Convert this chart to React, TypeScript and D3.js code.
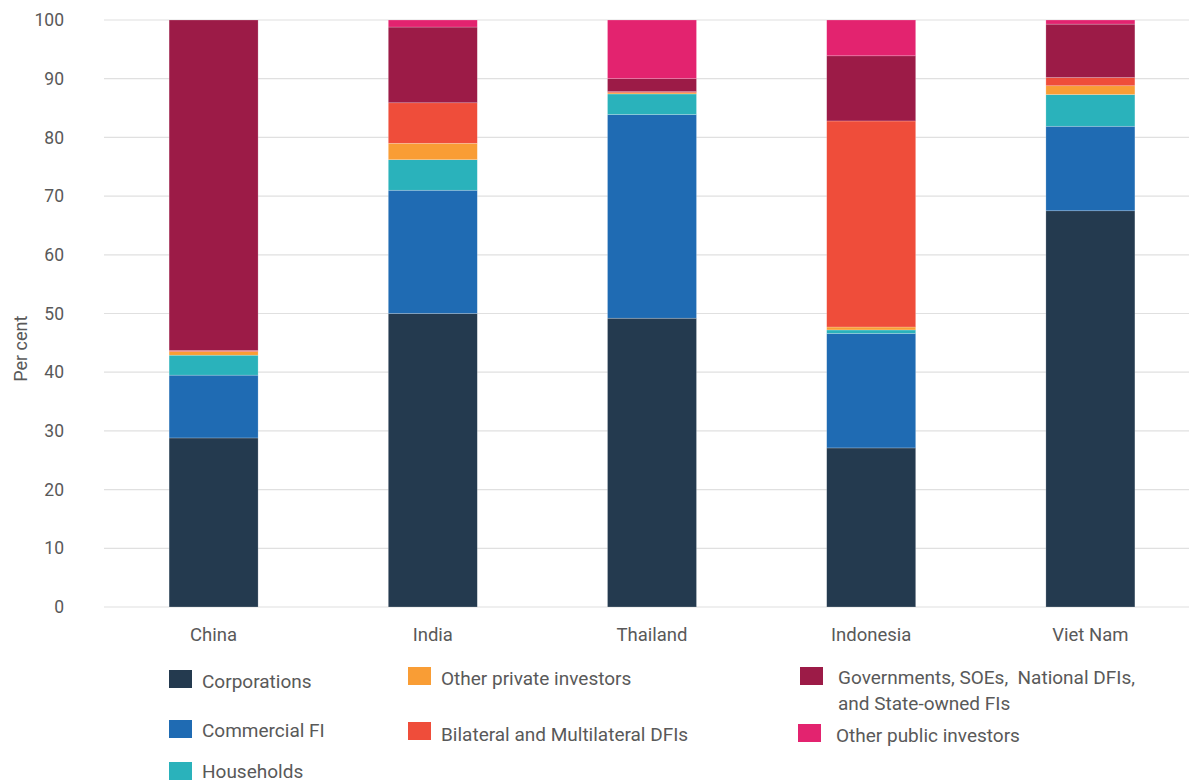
import React from "react";
import * as d3 from "d3";

const categories = ["China", "India", "Thailand", "Indonesia", "Viet Nam"];
const seriesNames = [
  "Corporations",
  "Commercial FI",
  "Households",
  "Other private investors",
  "Bilateral and Multilateral DFIs",
  "Governments, SOEs,  National DFIs, and State-owned FIs",
  "Other public investors",
];
const colors = ["#243a4f", "#1f6bb3", "#2ab2bb", "#f99d35", "#ef4d3a", "#9c1b47", "#e3236f"];
const corporations = [28.8, 50.0, 49.2, 27.1, 67.5];
const commercialFI = [10.7, 21.0, 34.7, 19.5, 14.4];
const households = [3.4, 5.2, 3.5, 0.6, 5.4];
const otherPrivate = [0.6, 2.8, 0.2, 0.5, 1.5];
const bilateral = [0.2, 6.9, 0.2, 35.1, 1.4];
const governments = [56.3, 12.9, 2.2, 11.1, 9.1];
const otherPublic = [0.0, 1.2, 10.0, 6.1, 0.7];
const yTicks = [0, 10, 20, 30, 40, 50, 60, 70, 80, 90, 100];

const seriesValues = [corporations, commercialFI, households, otherPrivate, bilateral, governments, otherPublic];

export default function App() {
  const W = 1189, H = 780;
  const x = d3.scaleBand<string>().domain(categories).range([104, 1200]).paddingInner(0.594).paddingOuter(0.297);
  const y = d3.scaleLinear().domain([0, 100]).range([607, 20]);
  const rows = categories.map((c, i) => {
    const r: any = { cat: c };
    seriesNames.forEach((s, k) => (r[s] = seriesValues[k][i]));
    return r;
  });
  const stacked = d3.stack<any>().keys(seriesNames)(rows);
  const font = "Roboto, 'Noto Sans', sans-serif";
  const txt = "#595959";

  const legend = [
    { k: 0, sx: 169, sy: 670, tx: 202, ty: 688, lines: ["Corporations"] },
    { k: 1, sx: 169, sy: 720, tx: 202, ty: 737, lines: ["Commercial FI"] },
    { k: 2, sx: 169, sy: 762, tx: 202, ty: 778, lines: ["Households"] },
    { k: 3, sx: 408, sy: 667, tx: 441, ty: 685, lines: ["Other private investors"] },
    { k: 4, sx: 408, sy: 722, tx: 441, ty: 741, lines: ["Bilateral and Multilateral DFIs"] },
    { k: 5, sx: 800, sy: 667, tx: 838, ty: 684, lines: ["Governments, SOEs,  National DFIs,", "and State-owned FIs"] },
    { k: 6, sx: 798, sy: 724, tx: 836, ty: 742, lines: ["Other public investors"] },
  ];

  return (
    <svg width={W} height={H} style={{ position: "absolute", left: 0, top: 0, background: "#fff" }} fontFamily={font}>
      {yTicks.map((t) => (
        <g key={t}>
          <line x1={104} x2={W} y1={y(t)} y2={y(t)} stroke="#e0e0e0" strokeWidth={1.2} />
          <text x={64} y={y(t)} dy="0.35em" textAnchor="end" fontSize={17.5} fill={txt}>
            {t}
          </text>
        </g>
      ))}
      <text transform={`translate(27,${y(44)}) rotate(-90)`} textAnchor="middle" fontSize={18} fill={txt}>
        Per cent
      </text>
      {stacked.map((s, k) => (
        <g key={k} fill={colors[k]}>
          {s.map((d, i) => (
            <rect
              key={i}
              x={x(categories[i])}
              width={x.bandwidth()}
              y={y(d[1])}
              height={Math.max(0, y(d[0]) - y(d[1]))}
              stroke="rgba(255,255,255,0.35)"
              strokeWidth={0.6}
            />
          ))}
        </g>
      ))}
      {categories.map((c) => (
        <text key={c} x={(x(c) as number) + x.bandwidth() / 2} y={641} textAnchor="middle" fontSize={18.5} fill={txt}>
          {c}
        </text>
      ))}
      {legend.map((l) => (
        <g key={l.k}>
          <rect x={l.sx} y={l.sy} width={23} height={18} fill={colors[l.k]} />
          {l.lines.map((ln, j) => (
            <text key={j} x={l.tx} y={l.ty + j * 26} fontSize={19} fill={txt} style={{ whiteSpace: "pre" }}>
              {ln}
            </text>
          ))}
        </g>
      ))}
    </svg>
  );
}
